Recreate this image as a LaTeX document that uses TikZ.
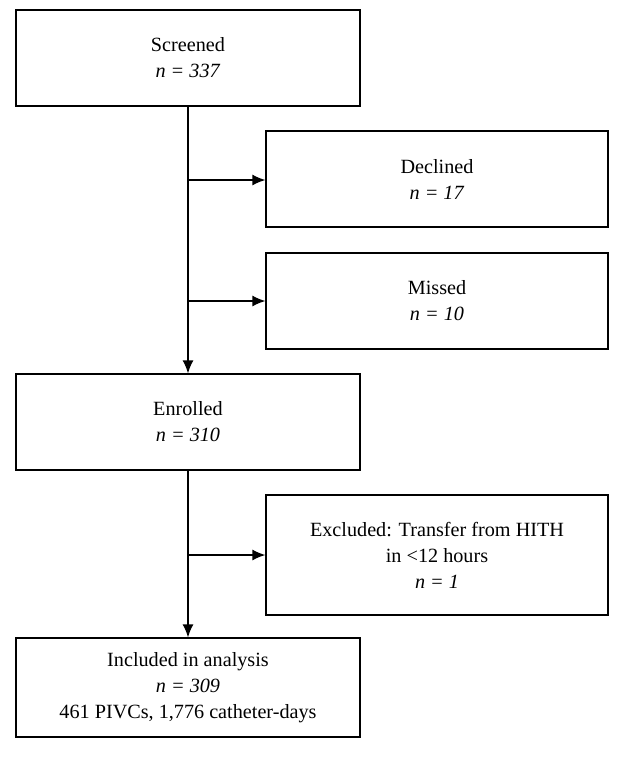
\documentclass[tikz,border=0pt]{standalone}
\usepackage{fontspec}
\setmainfont{Liberation Serif}
\usetikzlibrary{arrows.meta}
\begin{document}
\begin{tikzpicture}[x=1pt,y=-1pt,
  box/.style={draw,line width=1.3pt,align=center,font=\fontsize{20.2}{26}\selectfont},
  arr/.style={line width=1.3pt,-{Latex[length=13pt,width=11pt]}}]
\useasboundingbox (0,0) rectangle (628,758);
\node[box,minimum width=344pt,minimum height=96pt] (scr) at (188,58) {Screened\\\textit{n = 337}};
\node[box,minimum width=342pt,minimum height=96pt] (dec) at (437,179) {Declined\\\textit{n = 17}};
\node[box,minimum width=342pt,minimum height=96pt] (mis) at (437,301) {Missed\\\textit{n = 10}};
\node[box,minimum width=344pt,minimum height=96pt] (enr) at (188,422) {Enrolled\\\textit{n = 310}};
\node[box,minimum width=342pt,minimum height=120pt] (exc) at (437,555) {Excluded: Transfer from HITH\\in <12 hours\\\textit{n = 1}};
\node[box,minimum width=344pt,minimum height=99pt] (inc) at (188,687.5) {Included in analysis\\\textit{n = 309}\\461 PIVCs, 1,776 catheter-days};
\draw[arr] (scr.south) -- (enr.north);
\coordinate (b1) at (188,180);
\coordinate (b2) at (188,301);
\coordinate (b3) at (188,555);
\draw[arr] (b1) -- (b1 -| dec.west);
\draw[arr] (b2) -- (b2 -| mis.west);
\draw[arr] (enr.south) -- (inc.north);
\draw[arr] (b3) -- (b3 -| exc.west);
\end{tikzpicture}
\end{document}
